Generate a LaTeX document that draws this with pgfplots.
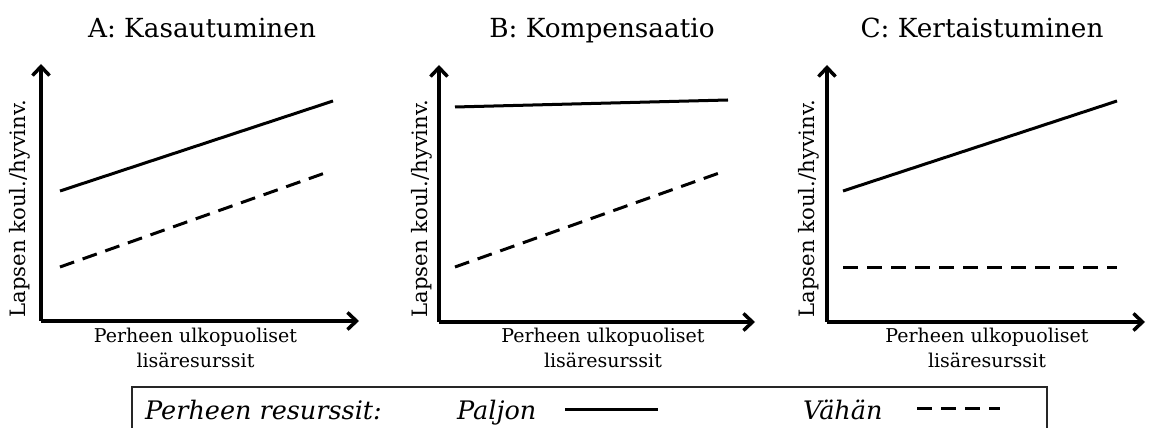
\documentclass[border=0pt]{standalone}
\usepackage{fontspec}
\setmainfont{DejaVu Serif}
\usepackage{pgfplots}
\pgfplotsset{compat=1.18}
\usetikzlibrary{arrows.meta}
\begin{document}
\begin{tikzpicture}[x=1pt,y=1pt]
\useasboundingbox (0,0) rectangle (1149,428);
\pgfplotsset{panel/.style={
  scale only axis, height=257pt,
  xmin=0,ymin=0,ymax=257,
  axis lines=left, xtick=\empty, ytick=\empty, clip=false,
  axis line style={line width=3.5pt, -{Straight Barb[length=9pt,width=17pt]}},
  anchor=south west},
  paljon/.style={black, line width=3pt},
  vahan/.style={black, line width=3pt, dash pattern=on 15pt off 9pt}}
% Panel A
\begin{axis}[panel, at={(41,107)}, width=318pt, xmax=318]
\addplot[paljon] coordinates {(19,130) (292,220)};
\addplot[vahan] coordinates {(19,54) (284,148)};
\end{axis}
% Panel B
\begin{axis}[panel, at={(439,106)}, width=316pt, xmax=316]
\addplot[paljon] coordinates {(16,215) (289,222)};
\addplot[vahan] coordinates {(16,55) (283,150)};
\end{axis}
% Panel C
\begin{axis}[panel, at={(827,106)}, width=318pt, xmax=318]
\addplot[paljon] coordinates {(16,131) (290,221)};
\addplot[vahan] coordinates {(16,54) (290,54)};
\end{axis}
% titles
\tikzset{ttl/.style={anchor=base, inner sep=0pt, font=\fontsize{26.3}{30}\selectfont},
  lab/.style={anchor=base, inner sep=0pt, font=\fontsize{19}{22}\selectfont},
  ylab/.style={anchor=base, inner sep=0pt, font=\fontsize{21.2}{24}\selectfont},
  leg/.style={anchor=base west, inner sep=0pt, font=\fontsize{25.5}{30}\selectfont\itshape}}
\node[ttl] at (202,390) {A: Kasautuminen};
\node[ttl] at (602,390) {B: Kompensaatio};
\node[ttl] at (982,390) {C: Kertaistuminen};
% x labels
\foreach \cx in {195.5,603,987}{
  \node[lab] at (\cx,85) {Perheen ulkopuoliset};
  \node[lab] at (\cx,60.5) {lisäresurssit};
}
% y labels
\foreach \bx in {25,427,814}{
  \node[ylab, rotate=90] at (\bx,219.5) {Lapsen koul./hyvinv.};
}
% legend
\draw[line width=1.5pt, black!85] (132,-30) rectangle (1047,41);
\node[leg] at (145,8) {Perheen resurssit:};
\node[leg] at (457,8) {Paljon};
\node[leg] at (803,8) {Vähän};
\draw[line width=3pt] (565,18) -- (658,18);
\draw[line width=3pt, dash pattern=on 15pt off 9pt] (917,19) -- (1000,19);
\end{tikzpicture}
\end{document}
